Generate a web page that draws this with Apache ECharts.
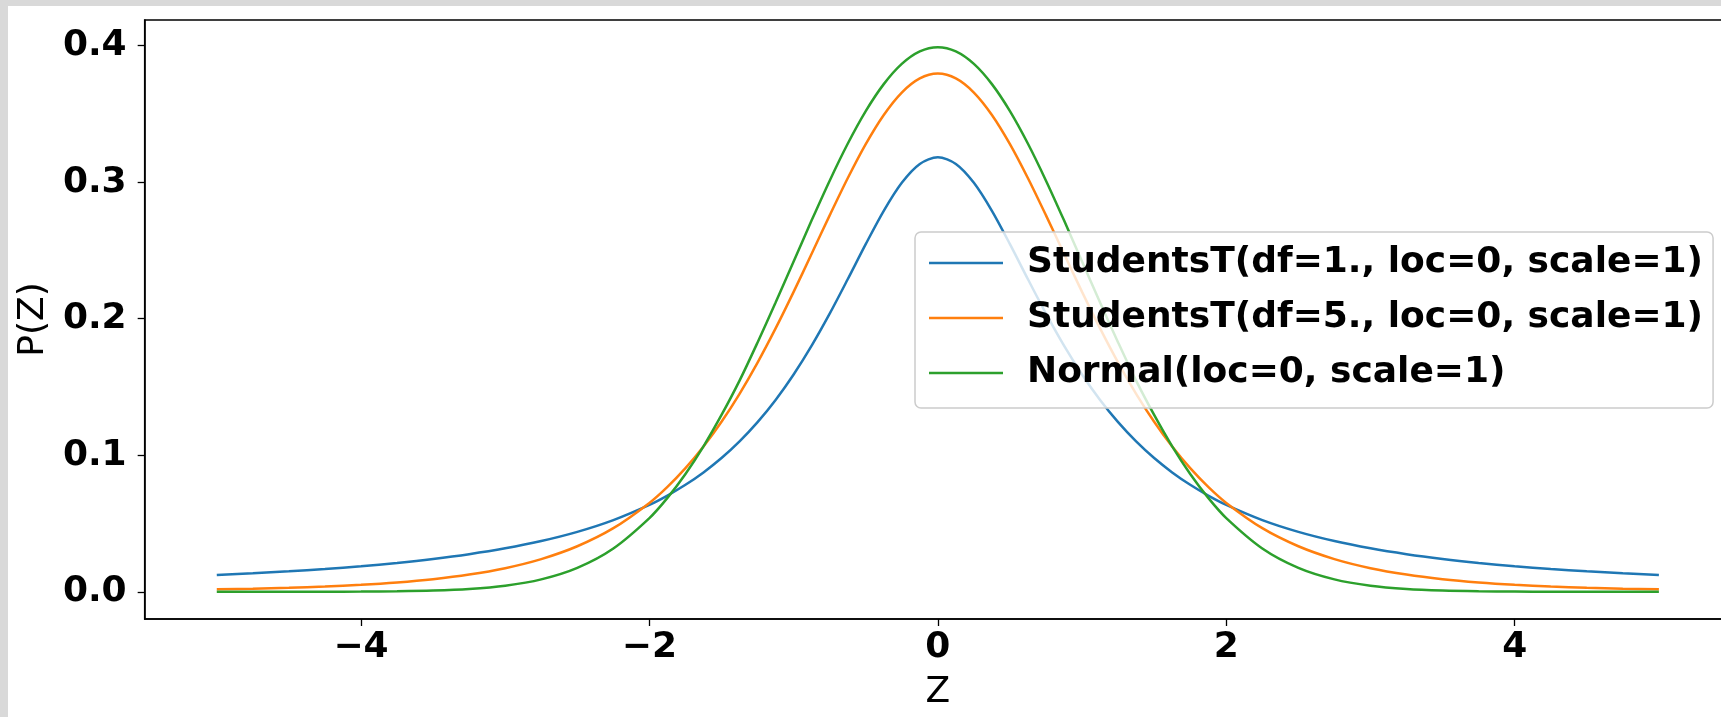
<!DOCTYPE html>
<html>
<head>
<meta charset="utf-8">
<script src="https://cdn.jsdelivr.net/npm/echarts@6/dist/echarts.min.js"></script>
<style>
  html, body { margin: 0; padding: 0; width: 1721px; height: 717px; overflow: hidden; background: #d9d9d9; }
  #chart { position: absolute; left: 8px; top: 6px; width: 1760px; height: 711px; background: #ffffff; }
</style>
</head>
<body>
<div id="chart"></div>
<script>
// Z grid (x values)
const zValues = [-5, -4.75, -4.5, -4.25, -4, -3.75, -3.5, -3.25, -3, -2.75, -2.5, -2.25,
                 -2, -1.875, -1.75, -1.625, -1.5, -1.375, -1.25, -1.125, -1, -0.875, -0.75, -0.625, -0.5, -0.375, -0.25, -0.125,
                 0,
                 0.125, 0.25, 0.375, 0.5, 0.625, 0.75, 0.875, 1, 1.125, 1.25, 1.375, 1.5, 1.625, 1.75, 1.875, 2,
                 2.25, 2.5, 2.75, 3, 3.25, 3.5, 3.75, 4, 4.25, 4.5, 4.75, 5];

// StudentsT(df=1)
const studentsT1 = [0.01224, 0.01351, 0.01498, 0.01670, 0.01872, 0.02113, 0.02402, 0.02753, 0.03183, 0.03718, 0.04390, 0.05251,
                    0.06366, 0.07049, 0.07835, 0.08743, 0.09794, 0.11012, 0.12422, 0.14050, 0.15915, 0.18028, 0.20372, 0.22890, 0.25465, 0.27907, 0.29959, 0.31341,
                    0.31831,
                    0.31341, 0.29959, 0.27907, 0.25465, 0.22890, 0.20372, 0.18028, 0.15915, 0.14050, 0.12422, 0.11012, 0.09794, 0.08743, 0.07835, 0.07049, 0.06366,
                    0.05251, 0.04390, 0.03718, 0.03183, 0.02753, 0.02402, 0.02113, 0.01872, 0.01670, 0.01498, 0.01351, 0.01224];

// StudentsT(df=5)
const studentsT5 = [0.00176, 0.00227, 0.00295, 0.00387, 0.00512, 0.00685, 0.00924, 0.01259, 0.01729, 0.02393, 0.03333, 0.04657,
                    0.06509, 0.07684, 0.09054, 0.10638, 0.12452, 0.14503, 0.16790, 0.19291, 0.21968, 0.24757, 0.27570, 0.30292, 0.32792, 0.34930, 0.36572, 0.37607,
                    0.37961,
                    0.37607, 0.36572, 0.34930, 0.32792, 0.30292, 0.27570, 0.24757, 0.21968, 0.19291, 0.16790, 0.14503, 0.12452, 0.10638, 0.09054, 0.07684, 0.06509,
                    0.04657, 0.03333, 0.02393, 0.01729, 0.01259, 0.00924, 0.00685, 0.00512, 0.00387, 0.00295, 0.00227, 0.00176];

// Normal(0,1)
const normal01 = [0.0000015, 0.00001, 0.00002, 0.00005, 0.00013, 0.00035, 0.00087, 0.00203, 0.00443, 0.00909, 0.01753, 0.03174,
                  0.05399, 0.06879, 0.08628, 0.10654, 0.12952, 0.15467, 0.18265, 0.21188, 0.24197, 0.27206, 0.30114, 0.32816, 0.35207, 0.37186, 0.38667, 0.39584,
                  0.39894,
                  0.39584, 0.38667, 0.37186, 0.35207, 0.32816, 0.30114, 0.27206, 0.24197, 0.21188, 0.18265, 0.15467, 0.12952, 0.10654, 0.08628, 0.06879, 0.05399,
                  0.03174, 0.01753, 0.00909, 0.00443, 0.00203, 0.00087, 0.00035, 0.00013, 0.00005, 0.00002, 0.00001, 0.0000015];

const seriesNames = ['StudentsT(df=1., loc=0, scale=1)', 'StudentsT(df=5., loc=0, scale=1)', 'Normal(loc=0, scale=1)'];
const seriesColors = ['#1f77b4', '#ff7f0e', '#2ca02c'];
const xTickValues = [-4, -2, 0, 2, 4];
const yTickValues = [0, 0.1, 0.2, 0.3, 0.4];
const xTickLabels = ['\u22124', '\u22122', '0', '2', '4'];
const yTickLabels = ['0.0', '0.1', '0.2', '0.3', '0.4'];

const allSeries = [studentsT1, studentsT5, normal01];
const FONT = '"DejaVu Sans", sans-serif';

const chart = echarts.init(document.getElementById('chart'), null, { renderer: 'canvas' });

const axisCommon = {
  axisLine: { show: true, onZero: false, lineStyle: { color: '#000', width: 1.5 } },
  axisTick: { show: true, inside: false, length: 7, lineStyle: { color: '#000', width: 1.3 } },
  splitLine: { show: false },
  nameTextStyle: { fontFamily: FONT, fontSize: 36, fontWeight: 'normal', color: '#000' }
};

chart.setOption({
  animation: false,
  backgroundColor: '#ffffff',
  grid: { left: 133, top: 14, right: 37, bottom: 98, show: true, borderColor: '#000', borderWidth: 1.5, backgroundColor: 'transparent' },
  xAxis: Object.assign({}, axisCommon, {
    type: 'value',
    min: -5.5, max: 5.5,
    name: 'Z', nameLocation: 'middle', nameGap: 56,
    axisTick: Object.assign({}, axisCommon.axisTick, { customValues: xTickValues }),
    axisLabel: {
      customValues: xTickValues,
      formatter: v => xTickLabels[xTickValues.indexOf(v)] ?? '',
      margin: 11, fontFamily: FONT, fontSize: 36, fontWeight: 'bold', color: '#000'
    }
  }),
  yAxis: Object.assign({}, axisCommon, {
    type: 'value',
    min: -0.01995, max: 0.41883,
    name: 'P(Z)', nameLocation: 'middle', nameGap: 83, nameRotate: 90,
    axisTick: Object.assign({}, axisCommon.axisTick, { customValues: yTickValues }),
    axisLabel: {
      customValues: yTickValues,
      formatter: v => { const i = yTickValues.findIndex(t => Math.abs(t - v) < 1e-9); return i >= 0 ? yTickLabels[i] : ''; },
      margin: 18, fontFamily: FONT, fontSize: 36, fontWeight: 'bold', color: '#000'
    }
  }),
  legend: {
    orient: 'vertical',
    left: 907, top: 226,
    padding: [13, 10, 17, 14],
    icon: 'rect',
    itemWidth: 74, itemHeight: 2.5, itemGap: 19,
    backgroundColor: 'rgba(255,255,255,0.8)',
    borderColor: '#cccccc', borderWidth: 1.5, borderRadius: 6,
    data: seriesNames,
    textStyle: { fontFamily: FONT, fontSize: 36, fontWeight: 'bold', color: '#000', lineHeight: 36, padding: [0, 0, 0, 19] }
  },
  series: allSeries.map((vals, i) => ({
    name: seriesNames[i],
    type: 'line',
    data: zValues.map((z, k) => [z, vals[k]]),
    smooth: 0.3,
    symbol: 'none',
    lineStyle: { color: seriesColors[i], width: 2.5 },
    itemStyle: { color: seriesColors[i] },
    z: 2
  }))
});
</script>
</body>
</html>
